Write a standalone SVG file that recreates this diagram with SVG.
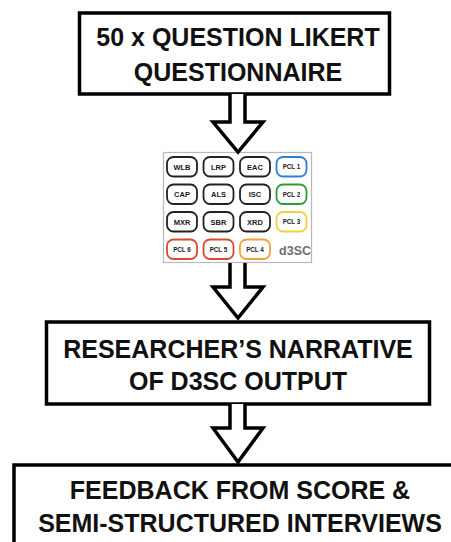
<svg xmlns="http://www.w3.org/2000/svg" width="451" height="542" viewBox="0 0 451 542">
  <style>
    .box { fill: #ffffff; stroke: #000000; stroke-width: 3.5; }
    .title { font-family: "Liberation Sans", Arial, Helvetica, sans-serif; font-weight: bold; font-size: 25px; fill: #111111; text-anchor: middle; }
    .arrow { fill: #ffffff; stroke: #000000; stroke-width: 3.5; stroke-linejoin: miter; stroke-miterlimit: 10; }
    .panel { fill: #ffffff; stroke: #b8b8b8; stroke-width: 1.2; }
    .pill { fill: #ffffff; stroke: #222222; stroke-width: 1.8; }
    .pill-t { font-family: "Liberation Sans", Arial, sans-serif; font-weight: bold; font-size: 7.5px; fill: #1a1a1a; text-anchor: middle; }
    .pcl-t { font-size: 6.3px; }
    .blue { stroke: #2f7fd6; }
    .green { stroke: #2e9a3a; }
    .yellow { stroke: #f0d23c; }
    .orange { stroke: #f0a23a; }
    .red { stroke: #d94a35; }
    .logo { font-family: "Liberation Sans", Arial, sans-serif; font-weight: bold; font-size: 12.5px; fill: #6e6e6e; text-anchor: end; }
  </style>

  <rect width="451" height="542" fill="#ffffff"/>

  <!-- Questionnaire -->
  <g id="questionnaire">
    <rect class="box" x="79.5" y="13" width="310" height="81"/>
    <text class="title" x="238" y="45.5">50 x QUESTION LIKERT</text>
    <text class="title" x="238" y="80.5">QUESTIONNAIRE</text>
  </g>

  <!-- d3SC result panel -->
  <g id="d3sc">
    <rect class="panel" x="163.5" y="152.5" width="148" height="110"/>
    <g id="row1">
      <rect class="pill" x="167" y="157" width="30" height="19.5" rx="6.5"/>
      <text class="pill-t" x="182" y="169.5">WLB</text>
      <rect class="pill" x="203.5" y="157" width="30" height="19.5" rx="6.5"/>
      <text class="pill-t" x="218.5" y="169.5">LRP</text>
      <rect class="pill" x="240" y="157" width="30" height="19.5" rx="6.5"/>
      <text class="pill-t" x="255" y="169.5">EAC</text>
      <rect class="pill blue" x="276.5" y="157" width="30" height="19.5" rx="6.5"/>
      <text class="pill-t pcl-t" x="291.5" y="169">PCL 1</text>
    </g>
    <g id="row2">
      <rect class="pill" x="167" y="184.5" width="30" height="19.5" rx="6.5"/>
      <text class="pill-t" x="182" y="197">CAP</text>
      <rect class="pill" x="203.5" y="184.5" width="30" height="19.5" rx="6.5"/>
      <text class="pill-t" x="218.5" y="197">ALS</text>
      <rect class="pill" x="240" y="184.5" width="30" height="19.5" rx="6.5"/>
      <text class="pill-t" x="255" y="197">ISC</text>
      <rect class="pill green" x="276.5" y="184.5" width="30" height="19.5" rx="6.5"/>
      <text class="pill-t pcl-t" x="291.5" y="196.5">PCL 2</text>
    </g>
    <g id="row3">
      <rect class="pill" x="167" y="212" width="30" height="19.5" rx="6.5"/>
      <text class="pill-t" x="182" y="224.5">MXR</text>
      <rect class="pill" x="203.5" y="212" width="30" height="19.5" rx="6.5"/>
      <text class="pill-t" x="218.5" y="224.5">SBR</text>
      <rect class="pill" x="240" y="212" width="30" height="19.5" rx="6.5"/>
      <text class="pill-t" x="255" y="224.5">XRD</text>
      <rect class="pill yellow" x="276.5" y="212" width="30" height="19.5" rx="6.5"/>
      <text class="pill-t pcl-t" x="291.5" y="224">PCL 3</text>
    </g>
    <g id="row4">
      <rect class="pill red" x="167" y="239.5" width="30" height="19.5" rx="6.5"/>
      <text class="pill-t pcl-t" x="182" y="251.5">PCL 6</text>
      <rect class="pill red" x="203.5" y="239.5" width="30" height="19.5" rx="6.5"/>
      <text class="pill-t pcl-t" x="218.5" y="251.5">PCL 5</text>
      <rect class="pill orange" x="240" y="239.5" width="30" height="19.5" rx="6.5"/>
      <text class="pill-t pcl-t" x="255" y="251.5">PCL 4</text>
      <text class="logo" x="311" y="255">d3SC</text>
    </g>
  </g>

  <!-- Researcher narrative -->
  <g id="narrative">
    <rect class="box" x="46.5" y="322" width="383" height="82"/>
    <text class="title" x="238" y="358">RESEARCHER’S NARRATIVE</text>
    <text class="title" x="238" y="390">OF D3SC OUTPUT</text>
  </g>

  <!-- Feedback -->
  <g id="feedback">
    <rect class="box" x="14" y="465" width="460" height="100"/>
    <text class="title" x="240" y="499">FEEDBACK FROM SCORE &amp;</text>
    <text class="title" x="240" y="532">SEMI-STRUCTURED INTERVIEWS</text>
  </g>

  <!-- Hollow block arrows between stages -->
  <g id="connectors">
    <path class="arrow" d="M230,94 V122 H213 L238,152 L263,122 H245 V94"/>
    <path class="arrow" d="M230,263 V287 H213 L238,318 L263,287 H245 V263"/>
    <path class="arrow" d="M230,404 V428 H213 L238,462 L263,428 H245 V404"/>
  </g>
</svg>
